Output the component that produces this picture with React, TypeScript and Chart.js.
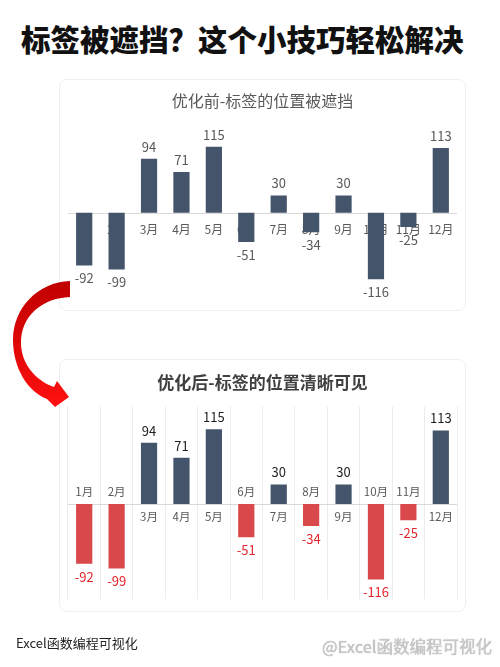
import React, { useEffect, useRef } from "react";
import { Chart, registerables, Plugin, ChartConfiguration } from "chart.js";

Chart.register(...registerables);

const FONT = "'Noto Sans CJK SC', 'Noto Sans', sans-serif";

// data
const months = ["1月", "2月", "3月", "4月", "5月", "6月", "7月", "8月", "9月", "10月", "11月", "12月"];
const sales = [-92, -99, 94, 71, 115, -51, 30, -34, 30, -116, -25, 113];

const pageTitle = "标签被遮挡？这个小技巧轻松解决";
const beforeTitle = "优化前-标签的位置被遮挡";
const afterTitle = "优化后-标签的位置清晰可见";
const footerText = "Excel函数编程可视化";
const watermark = "@Excel函数编程可视化";

const BLUE = "#44546A";
const RED = "#D9484A";

const zeroLine: Plugin<"bar"> = {
  id: "zeroLine",
  beforeDatasetsDraw(chart) {
    const { ctx, chartArea, scales } = chart;
    const y0 = Math.round(scales.y.getPixelForValue(0)) + 0.5;
    ctx.save();
    ctx.strokeStyle = "#d9d9d9";
    ctx.lineWidth = 1;
    ctx.beginPath();
    ctx.moveTo(chartArea.left, y0);
    ctx.lineTo(chartArea.right, y0);
    ctx.stroke();
    ctx.restore();
  },
};

// month names sitting right under the axis, so the negative bars cover them
const axisLabels: Plugin<"bar"> = {
  id: "axisLabels",
  beforeDatasetsDraw(chart) {
    const { ctx, scales } = chart;
    const y0 = scales.y.getPixelForValue(0);
    ctx.save();
    ctx.font = `12px ${FONT}`;
    ctx.fillStyle = "#595959";
    ctx.textAlign = "center";
    ctx.textBaseline = "middle";
    months.forEach((m, i) => {
      ctx.fillText(m, scales.x.getPixelForValue(i), y0 + 17);
    });
    ctx.restore();
  },
};

// month names on the opposite side of the bar
const smartLabels: Plugin<"bar"> = {
  id: "smartLabels",
  afterDatasetsDraw(chart) {
    const { ctx, scales } = chart;
    const y0 = scales.y.getPixelForValue(0);
    ctx.save();
    ctx.font = `11.5px ${FONT}`;
    ctx.fillStyle = "#595959";
    ctx.textAlign = "center";
    ctx.textBaseline = "middle";
    months.forEach((m, i) => {
      const y = sales[i] < 0 ? y0 - 12 : y0 + 13;
      ctx.fillText(m, scales.x.getPixelForValue(i), y);
    });
    ctx.restore();
  },
};

const valueLabels = (pos: string, neg: string): Plugin<"bar"> => ({
  id: "valueLabels",
  afterDatasetsDraw(chart) {
    const { ctx } = chart;
    const meta = chart.getDatasetMeta(0);
    ctx.save();
    ctx.font = `13px ${FONT}`;
    ctx.textAlign = "center";
    ctx.textBaseline = "middle";
    meta.data.forEach((bar: any, i) => {
      const v = sales[i];
      ctx.fillStyle = v < 0 ? neg : pos;
      ctx.fillText(String(v), bar.x, v < 0 ? bar.y + 13 : bar.y - 12);
    });
    ctx.restore();
  },
});

function makeConfig(after: boolean): ChartConfiguration<"bar"> {
  return {
    type: "bar",
    data: {
      labels: months,
      datasets: [
        {
          data: sales,
          backgroundColor: after ? sales.map((v) => (v < 0 ? RED : BLUE)) : BLUE,
          categoryPercentage: 1,
          barPercentage: 0.5,
        },
      ],
    },
    options: {
      responsive: true,
      maintainAspectRatio: false,
      animation: false,
      layout: { padding: { top: 0, left: 8, right: 8, bottom: after ? 12 : 17 } },
      plugins: {
        legend: { display: false },
        tooltip: { enabled: false },
        title: {
          display: true,
          text: after ? afterTitle : beforeTitle,
          color: after ? "#404040" : "#595959",
          font: { family: FONT, size: after ? 17 : 16, weight: after ? "bold" : "normal" },
          padding: after ? { top: 12, bottom: 14 } : { top: 11, bottom: 28 },
        },
      },
      scales: {
        x: {
          display: after,
          ticks: { display: false },
          grid: { display: true, color: "#ececec", drawTicks: false, offset: true },
          border: { display: false },
        },
        y: {
          display: false,
          min: after ? -146 : -140,
          max: after ? 150 : 130,
        },
      },
    },
    plugins: after
      ? [zeroLine, smartLabels, valueLabels("#1f1f1f", "#E3262D")]
      : [zeroLine, axisLabels, valueLabels("#595959", "#595959")],
  };
}

const BarCard: React.FC<{ after: boolean; top: number; height: number }> = ({ after, top, height }) => {
  const canvasRef = useRef<HTMLCanvasElement | null>(null);

  useEffect(() => {
    if (!canvasRef.current) return;
    const chart = new Chart(canvasRef.current, makeConfig(after));
    return () => chart.destroy();
  }, [after]);

  return (
    <div
      style={{
        position: "absolute",
        left: 59,
        top,
        width: 407,
        height,
        border: "1px solid #efefef",
        borderRadius: 8,
        boxSizing: "border-box",
        background: "#fff",
      }}
    >
      <canvas ref={canvasRef}></canvas>
    </div>
  );
};

const Arrow: React.FC = () => (
  <svg
    width={500}
    height={667}
    style={{ position: "absolute", left: 0, top: 0, pointerEvents: "none" }}
  >
    <defs>
      <linearGradient id="arrowFill" x1="0" y1="0" x2="0" y2="1">
        <stop offset="0" stopColor="#c00000" />
        <stop offset="1" stopColor="#ff1010" />
      </linearGradient>
    </defs>
    <path
      d="M 70 281 C 38 282, 13 308, 13 340 C 13 368, 28 392, 47 399 L 55 407 L 69 397 L 57 381 L 54 387 C 34 380, 21 362, 21 343 C 21 316, 42 298, 70 297 Z"
      fill="url(#arrowFill)"
    />
  </svg>
);

export default function App() {
  return (
    <div
      style={{
        position: "absolute",
        left: 0,
        top: 0,
        width: 500,
        height: 667,
        overflow: "hidden",
        background: "#fff",
        fontFamily: FONT,
      }}
    >
      <div
        style={{
          position: "absolute",
          left: 21,
          top: 24,
          fontSize: 29.5,
          lineHeight: 1,
          fontWeight: 900,
          color: "#111",
          whiteSpace: "nowrap",
        }}
      >
        {pageTitle}
      </div>
      <BarCard after={false} top={79} height={232} />
      <BarCard after={true} top={359} height={253} />
      <Arrow />
      <div
        style={{
          position: "absolute",
          left: 16,
          top: 635,
          fontSize: 13,
          lineHeight: 1.2,
          color: "#222",
          whiteSpace: "nowrap",
        }}
      >
        {footerText}
      </div>
      <div
        style={{
          position: "absolute",
          left: 322,
          top: 637,
          fontSize: 16.5,
          lineHeight: 1.2,
          color: "#c9c9c9",
          whiteSpace: "nowrap",
          textShadow: "0 0 1px #9a9a9a",
        }}
      >
        {watermark}
      </div>
    </div>
  );
}
